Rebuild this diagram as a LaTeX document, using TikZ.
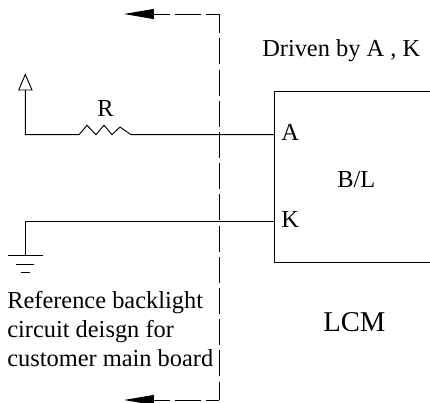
\documentclass[tikz,border=0pt]{standalone}
\usepackage{fontspec}
\setmainfont{Liberation Serif}
\usetikzlibrary{arrows.meta}
\tikzset{
  wire/.style={line width=.7pt},
  boundary/.style={line width=.7pt, dash pattern=on 19.5pt off 3.9pt},
  boardarrow/.style={line width=.7pt, -{Triangle[length=22.5pt,width=7.5pt]}},
  label/.style={inner sep=0pt, anchor=base west, font=\fontsize{18.3}{21.75}\selectfont},
}
\begin{document}
\begin{tikzpicture}[x=.75pt,y=-.75pt]
    \useasboundingbox (0,0) rectangle (430,403);
    % boundary of the main board
    \coordinate (topend) at (124,14);
    \coordinate (topbase) at (154,14);
    \coordinate (topcorner) at (219,14);
    \coordinate (botcorner) at (219,400);
    \coordinate (botbase) at (154,400);
    \coordinate (botend) at (124,400);
    \draw [boundary, dash phase=5.1pt] (topcorner) -- (botcorner);
    \draw [boundary, dash phase=7.5pt] (topbase) -- (topcorner);
    \draw [boundary, dash phase=7.5pt] (botbase) -- (botcorner);
    \draw [boardarrow] (topbase) -- (topend);
    \draw [boardarrow] (botbase) -- (botend);
    % LCM
    \coordinate (pinA) at (274.7,134.7);
    \coordinate (pinK) at (274.7,221);
    \draw [wire] (430,91.7) -- (274.7,91.7) -- (274.7,262.7) -- (430,262.7);
    \node [label] (lblA) at (281,140.7) {A};
    \node [label] (lblK) at (281,228) {K};
    \node [label] (lblBL) at (337,188) {B/L};
    \node [label] (lblDrv) at (262,56.7) {Driven by A , K};
    \node [label, font=\fontsize{21.5}{24}\selectfont] (lblLCM) at (323,332) {LCM};
    % resistor branch
    \coordinate (vcc) at (25.3,134.7);
    \coordinate (rleft) at (79,134.7);
    \coordinate (rright) at (131,134.7);
    \node [label] (lblR) at (97,117) {R};
    \draw [wire] (25.3,74.5) -- (18.7,90) -- (32,90) -- cycle;
    \draw [wire] (25.3,90) -- (vcc) -- (rleft) -- (87,125.3) -- (96,134.7) -- (104,125.3) -- (112,134.7) -- (120,127) -- (rright) -- (pinA);
    % ground branch
    \coordinate (gnd) at (25.3,221);
    \draw [wire] (pinK) -- (gnd) -- (25.3,255.7);
    \draw [wire] (8,255.7) -- (43,255.7);
    \draw [wire] (16.3,264) -- (34.3,264);
    \draw [wire] (20.7,272.7) -- (30,272.7);
    % note
    \node [label] (lblNoteA) at (7,309) {Reference backlight};
    \node [label] (lblNoteB) at (7,338) {circuit deisgn for};
    \node [label] (lblNoteC) at (7,367) {customer main board};
\end{tikzpicture}
\end{document}
